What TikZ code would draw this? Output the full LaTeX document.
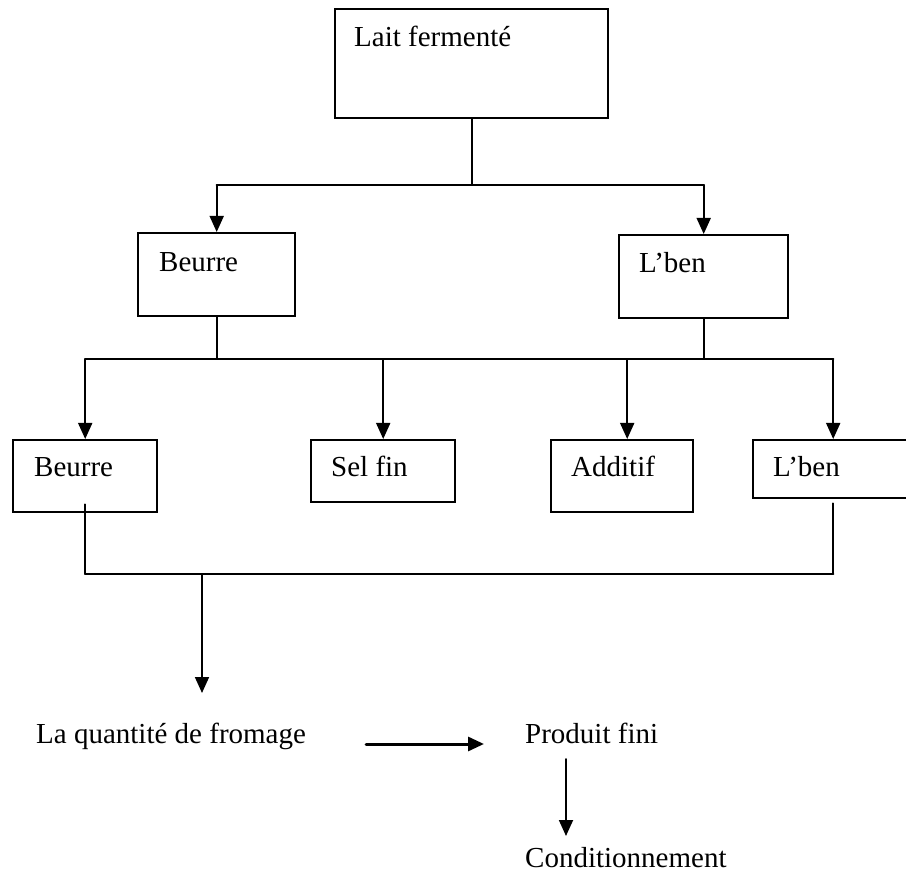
\documentclass[tikz,border=0pt]{standalone}
\usepackage{fontspec}
\setmainfont{Liberation Serif}
\usetikzlibrary{arrows.meta}
\tikzset{>={Triangle[length=16pt,width=14pt]},
  box/.style={draw, line width=2.4pt, inner sep=0pt, anchor=north west},
  lbl/.style={anchor=base west, inner sep=0pt, font=\fontsize{29}{34}\selectfont},
  flow/.style={line width=1.8pt},
  bus/.style={line width=2.4pt}}

\begin{document}
\begin{tikzpicture}[x=1pt,y=-1pt,line cap=round]
  \useasboundingbox (0,0) rectangle (906,874);

  % boxes
  \node[box, minimum width=273pt, minimum height=109pt] (lait) at (334,8) {};
  \node[box, minimum width=157pt, minimum height=83pt] (beurreA) at (137,232) {};
  \node[box, minimum width=169pt, minimum height=83pt] (lbenA) at (618,234) {};
  \node[box, minimum width=144pt, minimum height=72pt] (beurreB) at (12,439) {};
  \node[box, minimum width=144pt, minimum height=62pt] (sel) at (310,439) {};
  \node[box, minimum width=142pt, minimum height=72pt] (additif) at (550,439) {};
  \node[box, minimum width=160pt, minimum height=58pt] (lbenB) at (752,439) {};

  % texts
  \node[lbl] (laitT) at (354,47) {Lait fermenté};
  \node[lbl] (beurreAT) at (159,272) {Beurre};
  \node[lbl] (lbenAT) at (639,273) {L’ben};
  \node[lbl] (beurreBT) at (34,477) {Beurre};
  \node[lbl] (selT) at (331,477) {Sel fin};
  \node[lbl] (additifT) at (571,477) {Additif};
  \node[lbl] (lbenBT) at (773,477) {L’ben};
  \node[lbl] (quantite) at (36,743) {La quantité de fromage};
  \node[lbl] (produit) at (525,743) {Produit fini};
  \node[lbl] (cond) at (525,867) {Conditionnement};

  % first split
  \coordinate (busA) at (0,185);
  \draw[flow] (lait.south) -- (lait.south |- busA);
  \draw[bus] (beurreA.north |- busA) -- (lbenA.north |- busA);
  \draw[flow,->] (beurreA.north |- busA) -- (beurreA.north);
  \draw[flow,->] (lbenA.north |- busA) -- (lbenA.north);

  % second split
  \coordinate (busB) at (0,359);
  \draw[flow] (beurreA.south) -- (beurreA.south |- busB);
  \draw[flow] (lbenA.south) -- (lbenA.south |- busB);
  \draw[bus] (beurreB.north |- busB) -- (lbenB.north |- busB);
  \foreach \n in {beurreB,sel,lbenB}
    \draw[flow,->] (\n.north |- busB) -- (\n.north);
  \coordinate (addTop) at ([xshift=5pt]additif.north);
  \draw[flow,->] (addTop |- busB) -- (addTop);

  % collect
  \coordinate (busC) at (0,574);
  \coordinate (bOut) at ([yshift=9pt]beurreB.south);
  \coordinate (lOut) at ([yshift=-4pt]lbenB.south);
  \draw[flow] (bOut) -- (bOut |- busC);
  \draw[flow] (lOut) -- (lOut |- busC);
  \draw[bus] (bOut |- busC) -- (lOut |- busC);
  \coordinate (collect) at (202,574);
  \coordinate (qIn) at (202,693);
  \draw[flow,->] (collect) -- (qIn);

  % end
  \draw[line width=3pt,->] ([xshift=60pt,yshift=-1pt]quantite.base east) -- ([xshift=-41pt,yshift=-1pt]produit.base west);
  \coordinate (pOut) at (566,759);
  \coordinate (cIn) at (566,836);
  \draw[flow,->] (pOut) -- (cIn);

\end{tikzpicture}
\end{document}
